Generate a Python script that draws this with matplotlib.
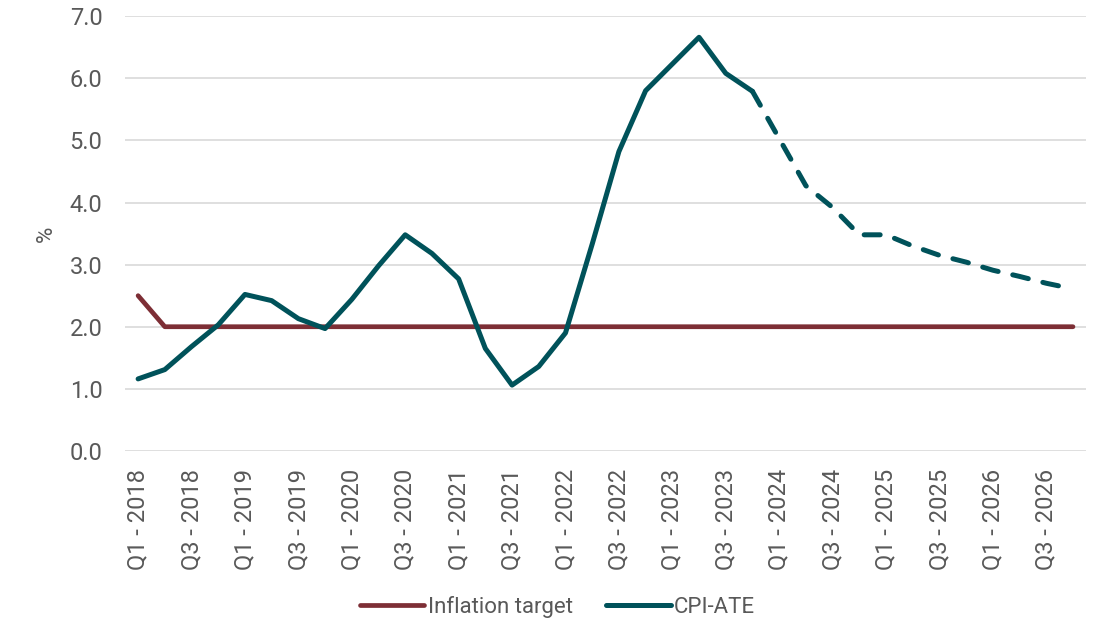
import matplotlib

matplotlib.use("Agg")

import matplotlib.pyplot as plt

plt.rcParams["font.family"] = ["Roboto", "DejaVu Sans"]

quarters = [f"Q{q} - {y}" for y in range(2018, 2027) for q in range(1, 5)]

inflation_target = [2.5] + [2.0] * 35

# CPI-ATE, actual Q1 2018 - Q4 2023
cpi_actual = [1.16, 1.31, 1.68, 2.03, 2.52, 2.42, 2.13, 1.97,
              2.44, 2.98, 3.48, 3.18, 2.77, 1.65, 1.06, 1.36,
              1.90, 3.33, 4.82, 5.80, 6.23, 6.66, 6.08, 5.79]

# projection Q4 2023 - Q4 2026
cpi_forecast = [5.79, 5.03, 4.27, 3.92, 3.48, 3.48, 3.30, 3.15,
                3.04, 2.91, 2.81, 2.70, 2.61]

red = "#7D2E35"
teal = "#00525A"
grey = "#595959"

x = list(range(len(quarters)))
x_actual = x[: len(cpi_actual)]
x_forecast = x[len(cpi_actual) - 1:]

fig = plt.figure(figsize=(11.04, 6.22), dpi=100)
ax = fig.add_axes([0.113, 0.275, 0.871, 0.699])

ax.plot(x, inflation_target, color=red, lw=3.4, solid_capstyle="round",
        solid_joinstyle="round", label="Inflation target")
ax.plot(x_actual, cpi_actual, color=teal, lw=3.6, solid_capstyle="round",
        solid_joinstyle="round", label="CPI-ATE")
ax.plot(x_forecast, cpi_forecast, color=teal, lw=3.6, dashes=(3.2, 3.0),
        dash_capstyle="round", dash_joinstyle="round")

ax.set_xlim(-0.5, len(quarters) - 0.5)
ax.set_ylim(0, 7)
ax.set_yticks([0, 1, 2, 3, 4, 5, 6, 7])
ax.set_yticklabels([f"{v:.1f}" for v in range(8)])
ax.set_xticks(x[::2])
ax.set_xticklabels(quarters[::2], rotation=90)

ax.grid(axis="y", color="#D9D9D9", lw=1.2)
ax.set_axisbelow(True)
for s in ax.spines.values():
    s.set_visible(False)
ax.tick_params(axis="both", length=0, labelsize=17, colors=grey)
ax.tick_params(axis="y", pad=16)
ax.tick_params(axis="x", pad=13)

ax.set_ylabel("%", fontsize=16, color=grey, labelpad=9)

handles, labels = ax.get_legend_handles_labels()
fig.legend(handles, labels, loc="center", bbox_to_anchor=(0.505, 0.024),
           ncol=2, frameon=False, fontsize=16, labelcolor=grey,
           handlelength=2.9, handletextpad=0.15, columnspacing=1.5)

fig.savefig("out.png", dpi=100)
